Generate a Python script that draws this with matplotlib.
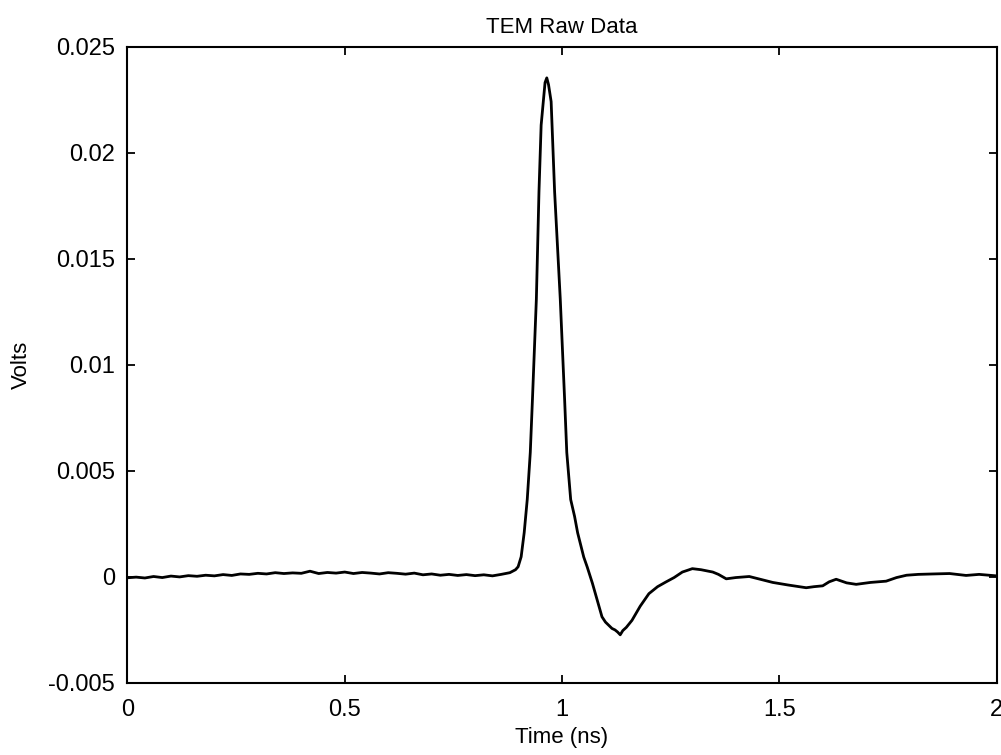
import matplotlib
matplotlib.use("Agg")
import matplotlib.pyplot as plt

plt.rcParams['font.family'] = ['Liberation Sans', 'DejaVu Sans']

title = "TEM Raw Data"
xlabel = "Time (ns)"
ylabel = "Volts"
xticks = [0, 0.5, 1, 1.5, 2]
xticklabels = ["0", "0.5", "1", "1.5", "2"]
yticks = [-0.005, 0, 0.005, 0.01, 0.015, 0.02, 0.025]
yticklabels = ["-0.005", "0", "0.005", "0.01", "0.015", "0.02", "0.025"]

time_ns = [0.00, 0.02, 0.04, 0.06, 0.08, 0.10, 0.12, 0.14, 0.16, 0.18,
           0.20, 0.22, 0.24, 0.26, 0.28, 0.30, 0.32, 0.34, 0.36, 0.38,
           0.40, 0.42, 0.44, 0.46, 0.48, 0.50, 0.52, 0.54, 0.56, 0.58,
           0.60, 0.62, 0.64, 0.66, 0.68, 0.70, 0.72, 0.74, 0.76, 0.78,
           0.80, 0.82, 0.84, 0.86, 0.88, 0.893, 0.899, 0.906, 0.913, 0.920,
           0.927, 0.932, 0.941, 0.947, 0.952, 0.957, 0.961, 0.965, 0.969, 0.975,
           0.983, 0.996, 1.006, 1.011, 1.020, 1.029, 1.036, 1.050, 1.058, 1.070,
           1.081, 1.092, 1.100, 1.107, 1.115, 1.122, 1.128, 1.134, 1.140, 1.148,
           1.161, 1.180, 1.200, 1.220, 1.239, 1.258, 1.277, 1.290, 1.300, 1.320,
           1.347, 1.360, 1.378, 1.400, 1.431, 1.460, 1.485, 1.520, 1.562, 1.580,
           1.600, 1.615, 1.631, 1.655, 1.677, 1.710, 1.746, 1.770, 1.793, 1.820,
           1.854, 1.892, 1.930, 1.960, 2.000]

volts = [-0.00006, -0.00003, -0.00007, 0.00000, -0.00005, 0.00002, -0.00002, 0.00004, 0.00001, 0.00006,
         0.00003, 0.00009, 0.00005, 0.00012, 0.00010, 0.00015, 0.00012, 0.00018, 0.00014, 0.00017,
         0.00015, 0.00025, 0.00014, 0.00019, 0.00016, 0.00021, 0.00014, 0.00019, 0.00016, 0.00012,
         0.00018, 0.00015, 0.00011, 0.00016, 0.00008, 0.00012, 0.00006, 0.00010, 0.00005, 0.00009,
         0.00004, 0.00008, 0.00003, 0.00010, 0.00018, 0.00032, 0.00046, 0.00093, 0.00207, 0.00363,
         0.00585, 0.00836, 0.01309, 0.01815, 0.02129, 0.02241, 0.02330, 0.02352, 0.02320, 0.02240,
         0.01815, 0.01309, 0.00836, 0.00585, 0.00363, 0.00283, 0.00206, 0.00092, 0.00045, -0.00032,
         -0.00111, -0.00190, -0.00215, -0.00229, -0.00245, -0.00252, -0.00262, -0.00275, -0.00255, -0.00240,
         -0.00207, -0.00140, -0.00081, -0.00048, -0.00026, -0.00005, 0.00021, 0.00030, 0.00037, 0.00032,
         0.00021, 0.00010, -0.00011, -0.00005, 0.00000, -0.00015, -0.00028, -0.00040, -0.00053, -0.00048,
         -0.00044, -0.00025, -0.00013, -0.00030, -0.00037, -0.00028, -0.00022, -0.00005, 0.00006, 0.00010,
         0.00012, 0.00014, 0.00005, 0.00010, 0.00003]

W, H = 1001, 755
fig = plt.figure(figsize=(W / 100, H / 100), dpi=100)
left, right, top, bottom = 127.5, 996.5, 46.5, 682.5
ax = fig.add_axes([left / W, 1 - bottom / H, (right - left) / W, (bottom - top) / H])

ax.plot(time_ns, volts, color='black', linewidth=2.0)

ax.set_xlim(0, 2)
ax.set_ylim(-0.005, 0.025)
ax.set_xticks(xticks)
ax.set_xticklabels(xticklabels)
ax.set_yticks(yticks)
ax.set_yticklabels(yticklabels)

ax.tick_params(direction='in', length=6, width=1.3, top=True, right=True,
               labelsize=17, colors='black')
ax.tick_params(axis='y', pad=9)
ax.tick_params(axis='x', pad=12)
for sp in ax.spines.values():
    sp.set_linewidth(1.5)
    sp.set_color('black')

ax.set_title(title, fontsize=16, pad=10)
ax.set_xlabel(xlabel, fontsize=16, labelpad=4)
ax.set_ylabel(ylabel, fontsize=16, labelpad=12)

fig.savefig("out.png", dpi=100, facecolor='white')
